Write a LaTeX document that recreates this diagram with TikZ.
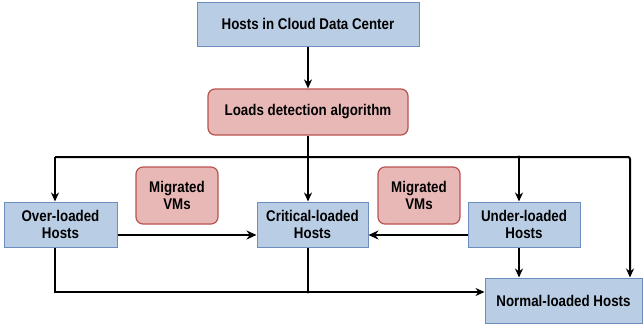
\documentclass[tikz,border=0pt]{standalone}
\usepackage{fontspec}
\setmainfont[FakeStretch=0.86]{Liberation Sans}
\usepackage{tikz}
\usetikzlibrary{arrows.meta,positioning,shadows}

\definecolor{hostfill}{RGB}{185,205,229}
\definecolor{hostline}{RGB}{108,142,191}
\definecolor{algfill}{RGB}{232,184,183}
\definecolor{algline}{RGB}{184,84,80}

\tikzset{
  host/.style={draw=hostline, fill=hostfill, line width=1pt, align=center,
    font=\fontsize{15.5}{17.5}\selectfont\bfseries, inner sep=0pt,
    drop shadow={shadow xshift=0pt, shadow yshift=-1.2pt, opacity=0.7, fill=black!70}},
  alg/.style={draw=algline, fill=algfill, line width=1.2pt, rounded corners=7pt,
    align=center, font=\fontsize{15.5}{17.5}\selectfont\bfseries, inner sep=0pt},
  link/.style={line width=2pt, -{Stealth[length=9pt,width=8pt]}},
  thick link/.style={line width=2.8pt, -{Stealth[length=10pt,width=9pt]}},
  wire/.style={line width=2pt}
}

\begin{document}
\begin{tikzpicture}[x=1pt,y=-1pt]
\useasboundingbox (0,0) rectangle (643,332);

% Boxes
\node[host, minimum width=222pt, minimum height=44pt] (cloud) at (308,24) {Hosts in Cloud Data Center};
\node[alg, minimum width=200pt, minimum height=46pt] (detect) at (308,112) {Loads detection algorithm};

\node[host, minimum width=113pt, minimum height=45pt] (over) at (60.5,224.5) {Over-loaded\\Hosts};
\node[host, minimum width=111pt, minimum height=45pt] (crit) at (312.5,224.5) {Critical-loaded\\Hosts};
\node[host, minimum width=112pt, minimum height=45pt] (under) at (524,224.5) {Under-loaded\\Hosts};
\node[host, minimum width=157pt, minimum height=45pt] (normal) at (563.5,300.5) {Normal-loaded Hosts};

\node[alg, minimum width=82pt, minimum height=57pt] (mig1) at (177,195.5) {Migrated\\VMs};
\node[alg, minimum width=82pt, minimum height=57pt] (mig2) at (419,195.5) {Migrated\\VMs};

% Bus coordinates
\coordinate (busmid) at (308,157);
\coordinate (busleft) at (55,157);
\coordinate (busunder) at (519,157);
\coordinate (busright) at (630,157);
\coordinate (lowleft) at (55,292);
\coordinate (lowmid) at (308,292);

% Connectors
\draw[link] (cloud) -- (detect);
\draw[wire] (detect) -- (busmid);
\draw[link] (busleft) -- (busleft |- over.north);
\draw[link] (busmid) -- (busmid |- crit.north);
\draw[link] (busunder) -- (busunder |- under.north);
\draw[link, rounded corners=2pt] (busleft) -- (busright) -- (busright |- normal.north);

\draw[thick link] (over.east |- 0,235) -- (crit.west |- 0,235);
\draw[thick link] (under.west |- 0,235) -- (crit.east |- 0,235);

\draw[link] (over.south -| lowleft) -- (lowleft) -- (normal.west |- lowleft);
\draw[wire] (crit.south -| lowmid) -- (lowmid);
\draw[link] (under.south -| busunder) -- (busunder |- normal.north);

% Junction dots
\fill (busmid) circle (1.6pt);
\fill (busunder) circle (1.6pt);
\fill (lowmid) circle (1.6pt);

\end{tikzpicture}
\end{document}
